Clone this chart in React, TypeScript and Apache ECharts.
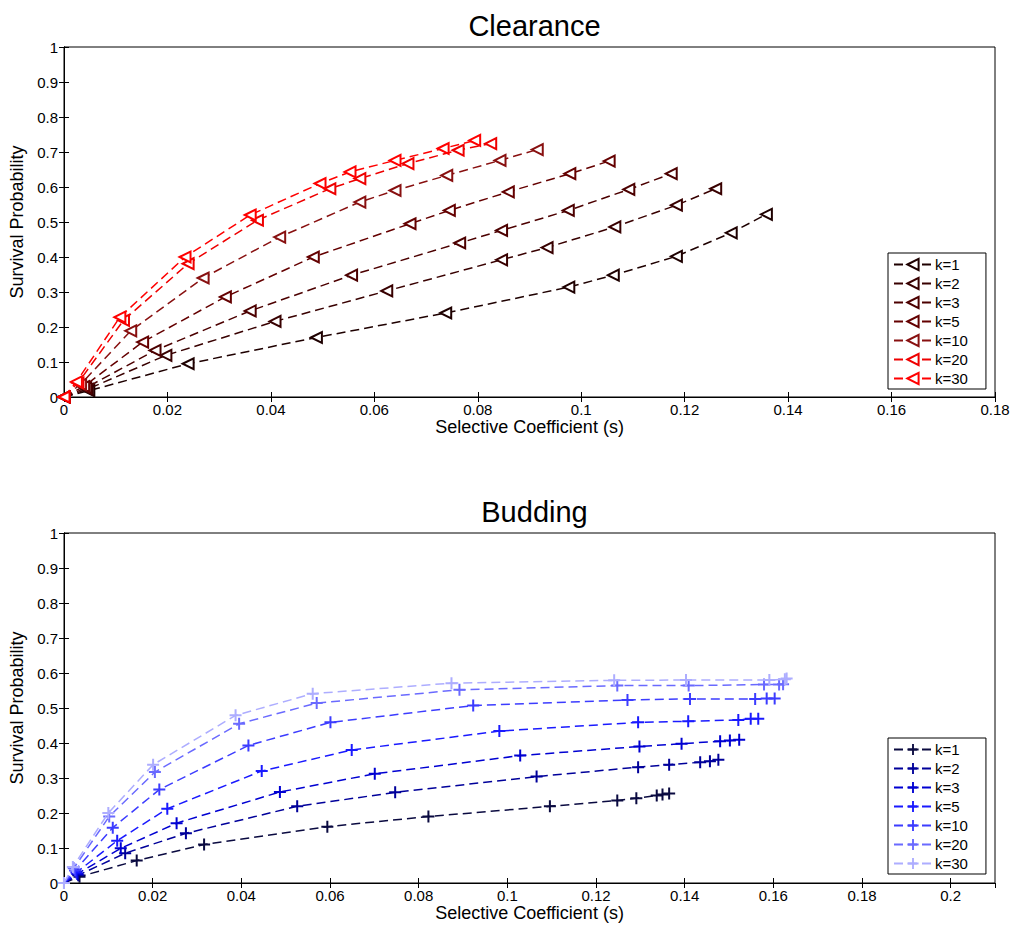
import React, { useEffect, useRef } from "react";
import * as echarts from "echarts";

const kLabels = ["k=1", "k=2", "k=3", "k=5", "k=10", "k=20", "k=30"];
const clearanceColors = ["#1e0000", "#380000", "#4c0000", "#640000", "#881010", "#ee0000", "#ff0000"];
const buddingColors = ["#0a0a40", "#00009a", "#0000d2", "#1a1aff", "#3c3cff", "#6a6aff", "#adadff"];

const clearanceTicks = [0, 0.18, 0.02];
const buddingTicks = [0, 0.21, 0.02];

// Clearance: [selective coefficient, survival probability]
const clearanceK1 = [[0, 0], [0.0048, 0.018], [0.024, 0.095], [0.0488, 0.17], [0.0738, 0.24], [0.0976, 0.314], [0.1062, 0.348], [0.1184, 0.402], [0.129, 0.469], [0.1358, 0.522]];
const clearanceK2 = [[0, 0], [0.0045, 0.022], [0.0197, 0.119], [0.0408, 0.216], [0.0624, 0.303], [0.0846, 0.392], [0.0934, 0.427], [0.1065, 0.486], [0.1184, 0.548], [0.126, 0.595]];
const clearanceK3 = [[0, 0], [0.0042, 0.026], [0.0176, 0.133], [0.036, 0.246], [0.0556, 0.348], [0.0765, 0.44], [0.0846, 0.476], [0.0975, 0.533], [0.1092, 0.593], [0.1174, 0.638]];
const clearanceK5 = [[0, 0], [0.0038, 0.03], [0.0152, 0.157], [0.0312, 0.286], [0.0482, 0.4], [0.0669, 0.495], [0.0745, 0.533], [0.0859, 0.586], [0.0978, 0.638], [0.1054, 0.674]];
const clearanceK10 = [[0, 0], [0.0032, 0.036], [0.0129, 0.189], [0.0269, 0.34], [0.0417, 0.457], [0.0572, 0.557], [0.064, 0.59], [0.074, 0.633], [0.0843, 0.676], [0.0915, 0.707]];
const clearanceK20 = [[0, 0], [0.0027, 0.04], [0.0115, 0.219], [0.024, 0.381], [0.0374, 0.505], [0.0514, 0.595], [0.0572, 0.624], [0.0665, 0.667], [0.0762, 0.705], [0.0825, 0.724]];
const clearanceK30 = [[0, 0], [0.0024, 0.043], [0.0108, 0.228], [0.0234, 0.4], [0.036, 0.52], [0.0495, 0.61], [0.0553, 0.643], [0.064, 0.676], [0.0733, 0.71], [0.0794, 0.733]];

// Budding: [selective coefficient, survival probability]
const buddingK1 = [[0, 0], [0.0035, 0.018], [0.0164, 0.064], [0.0316, 0.11], [0.0594, 0.161], [0.0822, 0.19], [0.1096, 0.219], [0.1248, 0.236], [0.1291, 0.242], [0.1337, 0.25], [0.135, 0.253], [0.1365, 0.256]];
const buddingK2 = [[0, 0], [0.0032, 0.022], [0.0138, 0.085], [0.0275, 0.142], [0.0526, 0.219], [0.0747, 0.259], [0.1066, 0.304], [0.1295, 0.331], [0.1365, 0.338], [0.1435, 0.345], [0.1457, 0.348], [0.1476, 0.352]];
const buddingK3 = [[0, 0], [0.003, 0.026], [0.0128, 0.099], [0.0254, 0.171], [0.0487, 0.26], [0.0701, 0.312], [0.1029, 0.364], [0.1298, 0.39], [0.1393, 0.398], [0.148, 0.405], [0.1502, 0.407], [0.1523, 0.409]];
const buddingK5 = [[0, 0], [0.0028, 0.03], [0.012, 0.121], [0.0233, 0.212], [0.0446, 0.32], [0.0649, 0.38], [0.0982, 0.434], [0.1295, 0.459], [0.1408, 0.462], [0.1521, 0.466], [0.1549, 0.469], [0.1566, 0.469]];
const buddingK10 = [[0, 0], [0.0025, 0.036], [0.011, 0.158], [0.0215, 0.267], [0.0416, 0.393], [0.0601, 0.459], [0.0923, 0.507], [0.1271, 0.523], [0.1412, 0.526], [0.1559, 0.526], [0.1585, 0.527], [0.1603, 0.527]];
const buddingK20 = [[0, 0], [0.0022, 0.042], [0.0102, 0.19], [0.0205, 0.317], [0.0395, 0.455], [0.057, 0.514], [0.0892, 0.552], [0.1248, 0.564], [0.1409, 0.564], [0.1579, 0.567], [0.1613, 0.567], [0.1622, 0.568]];
const buddingK30 = [[0, 0], [0.002, 0.046], [0.01, 0.2], [0.0201, 0.338], [0.0387, 0.479], [0.0561, 0.541], [0.0874, 0.571], [0.1241, 0.579], [0.1403, 0.58], [0.1591, 0.58], [0.1626, 0.582], [0.163, 0.584]];

const clearanceData = [clearanceK1, clearanceK2, clearanceK3, clearanceK5, clearanceK10, clearanceK20, clearanceK30];
const buddingData = [buddingK1, buddingK2, buddingK3, buddingK5, buddingK10, buddingK20, buddingK30];

const FONT = "Liberation Sans";
const PLUS = "path://M5,0H7V5H12V7H7V12H5V7H0V5H5Z";

function xAxes(gridIndex: number, ticks: number[], hideMax: boolean) {
  const common = {
    type: "value",
    gridIndex,
    min: ticks[0],
    max: ticks[1],
    interval: ticks[2],
    splitLine: { show: false },
    axisLine: { show: true, lineStyle: { color: "#000", width: 1 } },
    axisTick: { show: true, inside: true, length: 5, lineStyle: { color: "#000" } },
  };
  return [
    {
      ...common,
      position: "bottom",
      name: "Selective Coefficient (s)",
      nameLocation: "middle",
      nameGap: 21,
      nameTextStyle: { fontFamily: FONT, fontSize: 18, color: "#000" },
      axisLabel: { show: true, fontFamily: FONT, fontSize: 15, color: "#000", margin: 5, showMaxLabel: !hideMax },
    },
    { ...common, position: "top", axisLabel: { show: false } },
  ];
}

function yAxes(gridIndex: number) {
  const common = {
    type: "value",
    gridIndex,
    min: 0,
    max: 1,
    interval: 0.1,
    splitLine: { show: false },
    axisLine: { show: true, lineStyle: { color: "#000", width: 1 } },
    axisTick: { show: true, inside: true, length: 5, lineStyle: { color: "#000" } },
  };
  return [
    {
      ...common,
      position: "left",
      name: "Survival Probability",
      nameLocation: "middle",
      nameGap: 32,
      nameTextStyle: { fontFamily: FONT, fontSize: 18, color: "#000" },
      axisLabel: { show: true, fontFamily: FONT, fontSize: 15, color: "#000", margin: 6 },
    },
    { ...common, position: "right", axisLabel: { show: false } },
  ];
}

function makeSeries(prefix: string, data: number[][][], colors: string[], axisIdx: number, triangle: boolean) {
  return data.map((d, i) => ({
    type: "line",
    name: prefix + " " + kLabels[i],
    data: d,
    xAxisIndex: axisIdx,
    yAxisIndex: axisIdx,
    symbol: triangle ? "emptyTriangle" : PLUS,
    symbolSize: triangle ? 11 : 12,
    symbolRotate: triangle ? 90 : 0,
    showAllSymbol: true,
    lineStyle: { color: colors[i], width: 1.5, type: [9, 5] },
    itemStyle: triangle
      ? { color: colors[i], borderColor: colors[i], borderWidth: 1.5 }
      : { color: colors[i], borderWidth: 0 },
    emphasis: { disabled: true },
    z: 2 + i,
  }));
}

export default function App() {
  const ref = useRef<HTMLDivElement>(null);
  useEffect(() => {
    if (!ref.current) return;
    const chart = echarts.init(ref.current, undefined, { renderer: "svg" });
    const legendCommon = {
      orient: "vertical",
      left: 888,
      itemWidth: 38,
      itemHeight: 14,
      itemGap: 4,
      padding: [4, 18, 3, 5],
      borderColor: "#000",
      borderWidth: 1,
      backgroundColor: "#fff",
      formatter: (n: string) => n.split(" ").pop(),
      textStyle: { fontFamily: FONT, fontSize: 15, color: "#000", padding: [0, 0, 0, -2] },
      selectedMode: false,
    };
    chart.setOption({
      animation: false,
      backgroundColor: "#fff",
      title: [
        { text: "Clearance", left: 529.5, textAlign: "center", top: 6, textStyle: { fontFamily: FONT, fontSize: 29, fontWeight: "normal", color: "#000" } },
        { text: "Budding", left: 529.5, textAlign: "center", top: 492, textStyle: { fontFamily: FONT, fontSize: 29, fontWeight: "normal", color: "#000" } },
      ],
      grid: [
        { left: 64, top: 47, width: 931, height: 350, show: true, borderColor: "#000", borderWidth: 1, backgroundColor: "transparent" },
        { left: 64, top: 533, width: 931, height: 350, show: true, borderColor: "#000", borderWidth: 1, backgroundColor: "transparent" },
      ],
      xAxis: [...xAxes(0, clearanceTicks, false), ...xAxes(1, buddingTicks, true)],
      yAxis: [...yAxes(0), ...yAxes(1)],
      legend: [
        { ...legendCommon, top: 253, data: kLabels.map((k) => "c " + k) },
        { ...legendCommon, top: 738, data: kLabels.map((k) => "b " + k) },
      ],
      series: [
        ...makeSeries("c", clearanceData, clearanceColors, 0, true),
        ...makeSeries("b", buddingData, buddingColors, 2, false),
      ],
    });
    return () => chart.dispose();
  }, []);
  return <div ref={ref} style={{ position: "fixed", left: 0, top: 0, width: 1014, height: 929 }} />;
}
